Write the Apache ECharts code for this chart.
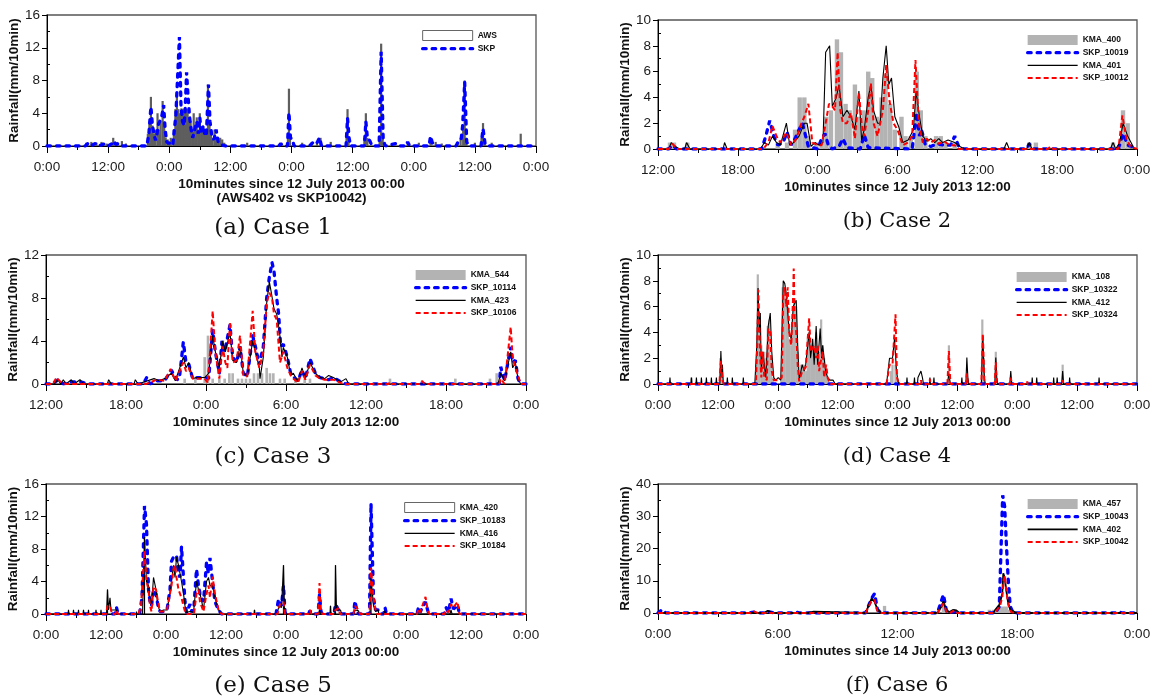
<!DOCTYPE html>
<html><head><meta charset="utf-8">
<script src="https://cdn.jsdelivr.net/npm/echarts@6/dist/echarts.min.js"></script>
<style>html,body{margin:0;padding:0;background:#fff}#c{width:1155px;height:698px}</style>
</head><body><div id="c"></div>
<script>
// ===== DATA: [hours since axis start, mm/10min] =====
// (a) Case 1
const A_AWS = [[7.7,0.4],[8.7,0.5],[9.7,0.4],[10.7,0.5],[11.7,0.3],[13.0,1.0],[13.7,0.5],[14.7,0.6],[15.5,0.3],
[19.8,1.5],[20.1,3.0],[20.4,6.0],[20.7,2.5],[21.0,1.5],[21.3,2.0],[21.7,4.0],[22.0,2.0],[22.3,3.0],[22.7,5.5],[23.0,3.0],[23.3,1.0],[23.7,0.8],[24.0,0.5],[24.3,1.0],
[24.9,2.0],[25.2,4.5],[25.5,6.5],[25.8,4.5],[26.1,4.0],[26.4,4.6],[26.7,4.5],[27.0,4.6],[27.3,4.5],[27.6,4.5],[27.9,3.5],[28.2,3.0],[28.5,2.0],[28.8,4.0],[29.1,2.0],[29.4,3.5],[29.7,2.0],[30.0,4.0],[30.3,2.0],[30.6,2.5],[30.9,1.5],[31.2,2.0],[31.6,7.5],[31.9,2.5],[32.2,1.5],[32.5,1.0],[32.9,2.0],[33.2,1.0],[33.6,1.0],[34.0,1.0],[34.4,0.8],[34.8,0.4],
[39.3,0.4],[45.9,0.3],[47.3,1.0],[47.5,7.0],[47.7,1.0],[50.1,0.4],[52.0,0.5],[53.0,0.5],[53.7,1.0],[55.7,0.5],
[58.8,1.0],[59.0,4.5],[59.2,1.0],[62.3,1.0],[62.6,4.0],[62.9,1.0],[65.3,1.0],[65.6,12.5],[65.9,1.5],
[70.8,0.4],[73.0,0.4],[75.3,0.5],[76.3,0.5],[77.5,0.3],[80.6,0.5],[81.2,1.0],[81.7,2.5],[82.0,8.0],[82.3,1.0],
[84.0,0.4],[85.3,1.0],[85.6,2.8],[85.9,0.5],[87.3,0.4],[93.0,1.5]];
const A_SKP = [[0,0],[7.5,0],[8.0,0.3],[8.5,0],[9.5,0.3],[10,0],[11.5,0.3],[12,0],[12.8,0.3],[13.1,0.6],[13.5,0.2],[14.2,0.3],[14.6,0],[19.6,0],[20.0,1.5],[20.4,4.8],[20.7,2.5],[21.0,1.5],[21.3,0.7],[21.6,1.5],[21.9,2.7],[22.2,2.5],[22.5,3.5],[22.9,5.0],[23.2,2.0],[23.5,0.5],[23.9,0.3],[24.3,0.5],[24.7,0.2],[25.0,2.0],[25.3,3.8],[25.6,4.0],[26.0,13.3],[26.3,5.0],[26.6,3.0],[26.9,2.5],[27.1,4.0],[27.4,9.0],[27.7,6.0],[28.0,3.5],[28.3,2.0],[28.6,1.0],[29.0,2.0],[29.4,3.0],[29.7,1.5],[30.0,3.5],[30.3,1.5],[30.7,2.5],[31.0,1.2],[31.3,1.5],[31.7,7.5],[32.0,3.0],[32.4,1.0],[32.8,0.8],[33.2,2.0],[33.6,0.5],[34.0,0.2],[35.0,0],[45.5,0],[45.9,0.3],[46.3,0],[47.2,0],[47.5,4.1],[47.8,1.0],[48.2,0.8],[48.5,0],[51.5,0],[52.0,0.3],[52.5,0.6],[53.0,0.4],[53.5,1.0],[53.9,0],[58.7,0],[59.0,3.4],[59.3,1.0],[59.6,0],[62.3,0],[62.6,3.0],[62.9,1.0],[63.4,0.6],[63.8,0],[65.2,0],[65.6,11.5],[66.0,0.8],[66.4,0],[68.5,0.3],[69,0],[70.5,0],[70.8,0.5],[71.2,0],[75.0,0],[75.3,1.2],[75.7,0.3],[76.1,0],[80.3,0],[80.7,0.5],[81.3,0.8],[81.6,2.5],[82.0,7.8],[82.4,0.5],[82.8,0],[85.2,0],[85.6,2.1],[86.0,0.3],[86.4,0],[96,0]];

// (b) Case 2
const B_KMA400 = [[0.9,0.5],[1.2,0.5],[2.2,0.5],[9.0,0.5],[9.7,0.5],[10.3,1.5],[10.65,4.0],[11.0,4.0],[11.3,1.0],[11.9,0.5],[12.3,0.5],[12.65,2.5],[13.0,3.0],[13.45,8.5],[13.75,7.5],[14.1,3.5],[14.4,3.0],[14.8,5.0],[15.1,2.5],[15.45,3.0],[15.8,6.0],[16.1,5.5],[16.45,2.5],[16.8,4.0],[17.1,5.8],[17.45,3.5],[17.8,1.5],[18.3,2.5],[18.6,1.0],[19.0,1.0],[19.45,6.0],[19.75,3.0],[20.1,1.0],[20.9,1.0],[21.25,1.0],[21.6,0.5],[22.3,0.5],[27.9,0.5],[28.4,0.5],[34.2,0.5],[34.95,3.0],[35.3,2.0]];
const B_SKP10019 = [[0,0],[0.8,0],[1.1,0.3],[1.4,0],[7.8,0],[8.1,1.0],[8.4,2.2],[8.7,1.0],[9.0,0.3],[9.4,0.5],[9.7,1.3],[10.0,0.3],[10.3,0.8],[10.6,1.5],[10.85,2.0],[11.1,1.0],[11.3,0.2],[12.0,0],[12.3,0.8],[12.55,1.2],[12.8,0.3],[13.1,0],[13.6,0.2],[13.9,0.8],[14.2,0.1],[15.2,0],[15.5,1.1],[15.8,0.1],[19.1,0],[19.45,2.8],[19.65,1.0],[19.8,1.5],[20.1,0.3],[20.5,0.2],[21.0,0.4],[21.5,0.3],[22.0,0.3],[22.3,1.0],[22.6,0.2],[23.0,0],[27.7,0],[27.9,0.4],[28.2,0],[34.6,0],[34.95,1.2],[35.3,0.3],[35.6,0.2],[36,0]];
const B_KMA401 = [[0,0],[0.8,0],[1.0,0.5],[1.3,0.2],[1.6,0],[2.0,0],[2.15,0.5],[2.4,0],[4.9,0],[5.0,0.5],[5.2,0],[7.7,0],[8.0,0.5],[8.3,0.3],[8.6,1.0],[8.9,0.5],[9.2,0.3],[9.65,2.0],[9.9,0.3],[10.2,0.5],[10.6,1.0],[11.0,2.0],[11.2,2.0],[11.5,0.2],[11.8,0.5],[12.1,0.3],[12.4,0.5],[12.6,7.5],[12.9,8.0],[13.1,3.3],[13.4,4.0],[13.6,5.0],[13.9,2.5],[14.2,3.0],[14.5,2.5],[14.8,1.5],[15.1,4.5],[15.3,0.7],[15.5,1.5],[15.8,4.0],[16.0,5.0],[16.2,3.0],[16.5,2.0],[16.7,2.0],[16.9,5.5],[17.15,8.0],[17.35,5.0],[17.55,5.5],[17.8,2.5],[18.1,1.7],[18.4,0.5],[18.8,0.7],[19.2,1.5],[19.4,4.5],[19.65,2.5],[19.9,1.0],[20.2,0.6],[20.5,0.8],[20.8,0.5],[21.1,0.8],[21.4,0.5],[21.8,0.7],[22.3,0.5],[22.7,0.2],[23.0,0],[26.0,0],[26.2,0.5],[26.4,0],[27.7,0],[27.9,0.5],[28.1,0],[34.0,0],[34.2,0.5],[34.4,0],[34.7,0.5],[34.95,2.0],[35.3,1.0],[35.6,0.4],[35.8,0],[36,0]];
const B_SKP10012 = [[0,0],[0.8,0],[1.1,0.4],[1.4,0],[7.9,0],[8.3,0.5],[8.6,1.8],[8.9,1.0],[9.2,0.5],[9.65,1.3],[10.0,0.3],[10.4,0.8],[10.7,1.8],[11.0,2.5],[11.3,3.5],[11.6,0.5],[12.0,0.3],[12.3,0.3],[12.6,2.0],[12.85,3.5],[13.1,3.3],[13.3,3.0],[13.5,7.5],[13.7,3.0],[13.9,2.0],[14.2,2.0],[14.5,2.8],[14.8,0.8],[15.1,4.4],[15.3,2.0],[15.5,1.0],[15.8,3.0],[16.0,5.1],[16.2,2.0],[16.5,1.0],[16.9,3.0],[17.15,6.5],[17.4,3.7],[17.7,2.0],[18.0,1.5],[18.4,0.3],[18.8,0.5],[19.1,1.0],[19.35,6.9],[19.6,2.0],[19.9,0.5],[20.2,0.8],[20.5,0.5],[20.8,0.7],[21.1,0.4],[21.5,0.6],[21.9,0.3],[22.3,0.3],[22.6,0],[29.3,0],[29.5,0.2],[29.7,0],[34.6,0],[34.9,2.6],[35.2,0.8],[35.5,0.2],[36,0]];

// (c) Case 3
const C_KMA544 = [[10.4,0.5],[11.2,0.5],[11.9,2.5],[12.15,4.5],[12.5,0.5],[13.0,0.5],[13.4,0.5],[13.75,1.0],[14.0,1.0],[14.4,0.5],[14.7,0.5],[15.0,0.5],[15.3,0.5],[15.6,1.0],[15.9,1.0],[16.2,1.0],[16.55,1.5],[16.8,1.0],[17.05,1.0],[17.55,0.5],[17.9,0.5],[18.7,0.5],[19.4,0.5],[19.8,0.5],[25.8,0.5],[30.7,0.5],[33.3,0.5],[33.8,1.0]];
const C_SKP10114 = [[0,0],[0.5,0],[0.9,0.4],[1.3,0],[1.9,0.2],[2.6,0.2],[3.2,0],[7.3,0],[7.55,0.6],[7.8,0],[8.3,0.3],[8.9,0.3],[9.4,1.3],[9.8,0.4],[10.0,0.5],[10.3,3.9],[10.5,2.0],[10.7,1.9],[11.0,0.5],[11.3,0.6],[11.9,0.6],[12.2,0.5],[12.5,5.0],[12.7,3.0],[13.0,1.0],[13.2,4.0],[13.4,3.0],[13.8,5.5],[14.0,2.5],[14.3,2.0],[14.55,3.5],[14.8,1.0],[15.1,0.7],[15.5,4.5],[15.7,3.5],[16.0,1.8],[16.3,3.5],[16.55,8.0],[16.75,9.9],[16.95,11.3],[17.1,10.5],[17.3,8.0],[17.45,6.5],[17.6,3.5],[17.8,3.7],[18.1,2.5],[18.35,1.0],[18.6,0.6],[18.9,0.3],[19.2,1.3],[19.45,0.5],[19.8,2.35],[20.2,1.0],[20.55,0.6],[20.9,0.5],[21.2,0.4],[21.55,0.6],[22.1,0.2],[22.5,0],[34.0,0],[34.1,1.6],[34.4,0.3],[34.85,3.45],[35.0,2.0],[35.2,2.2],[35.4,0.5],[35.6,0],[36,0]];
const C_KMA423 = [[0,0],[0.6,0],[0.9,0.4],[1.1,0],[1.3,0.4],[1.5,0],[1.9,0.4],[2.1,0],[2.55,0.4],[2.8,0],[4.6,0],[4.7,0.4],[4.9,0],[6.6,0],[6.7,0.4],[6.9,0],[8.1,0.5],[8.5,0.3],[8.9,0.5],[9.4,1.0],[9.7,0.3],[10.3,2.5],[10.5,1.5],[10.7,2.0],[11.0,0.5],[11.3,0.6],[11.9,0.6],[12.2,1.0],[12.5,4.5],[12.7,3.0],[13.0,1.5],[13.25,4.0],[13.45,3.0],[13.8,4.8],[14.0,2.2],[14.3,2.0],[14.55,3.5],[14.8,1.0],[15.1,0.7],[15.5,4.0],[15.7,3.0],[16.0,1.5],[16.05,0.5],[16.3,2.5],[16.55,7.5],[16.75,9.5],[16.9,8.5],[17.1,7.0],[17.3,6.5],[17.5,5.0],[17.7,2.5],[17.8,3.4],[18.1,2.5],[18.35,0.8],[18.55,1.0],[18.9,0.2],[19.2,1.5],[19.45,0.5],[19.8,2.0],[20.2,1.0],[20.55,0.6],[20.9,0.5],[21.2,0.8],[21.55,0.6],[22.1,0.2],[22.5,0.5],[22.7,0],[33.9,0],[34.1,1.0],[34.4,0.3],[34.85,3.0],[35.0,1.5],[35.2,2.0],[35.4,0.5],[35.6,0],[36,0]];
const C_SKP10106 = [[0,0],[0.5,0],[0.8,0.6],[1.1,0.2],[1.5,0],[7.5,0],[8.3,0.4],[8.9,0.3],[9.35,1.4],[9.7,0.3],[10.3,2.0],[10.5,1.2],[10.7,1.5],[11.0,0.5],[11.3,0.5],[11.9,0.5],[12.15,0.1],[12.3,0.2],[12.5,6.8],[12.7,3.0],[13.0,0.5],[13.25,3.5],[13.45,2.0],[13.6,1.5],[13.8,5.8],[14.0,2.0],[14.3,2.2],[14.55,4.5],[14.8,0.8],[15.1,0.7],[15.5,6.8],[15.7,3.0],[16.0,1.5],[16.3,3.0],[16.55,7.5],[16.75,8.5],[16.95,8.0],[17.1,6.5],[17.3,6.0],[17.55,2.0],[17.8,3.0],[18.1,1.5],[18.35,0.8],[18.55,0.5],[18.9,0.1],[19.2,1.2],[19.45,0.4],[19.8,1.8],[20.2,0.8],[20.55,0.5],[20.9,0.4],[21.55,0.4],[22.1,0.1],[22.4,0],[25.7,0],[25.8,0.2],[25.9,0],[28.1,0],[28.2,0.3],[28.4,0],[34.0,0],[34.1,0.5],[34.4,0],[34.85,5.3],[35.0,2.5],[35.2,1.5],[35.35,1.0],[35.6,0],[36,0]];

// (d) Case 4
const D_KMA108 = [[6.7,0.5],[12.5,2.0],[12.8,1.0],[19.7,1.5],[20.0,8.5],[20.3,4.0],[20.7,3.0],[21.0,1.0],[21.3,2.5],[21.7,2.0],[22.0,4.5],[22.3,5.0],[22.7,2.0],[23.0,0.5],[24.7,0.5],[25.0,7.5],[25.3,7.5],[25.7,7.0],[26.0,6.0],[26.3,3.5],[26.7,3.0],[27.0,4.5],[27.3,6.5],[27.7,6.0],[28.0,2.5],[28.7,1.5],[29.0,1.5],[29.3,1.5],[29.7,1.0],[30.0,3.5],[30.3,4.0],[30.7,2.0],[31.0,3.0],[31.3,2.5],[31.7,4.0],[32.0,2.5],[32.3,2.5],[32.7,5.0],[33.0,3.0],[33.3,2.0],[33.7,1.0],[34.0,0.5],[46.7,1.0],[47.0,1.5],[47.6,1.5],[58.3,3.0],[65.0,5.0],[65.3,2.0],[67.7,2.5],[70.7,0.5],[81.1,1.5]];
const D_SKP10322 = [[0,0],[96,0]];
const D_KMA412 = [[0,0],[2.3,0],[2.4,0.5],[2.5,0],[6.6,0],[6.7,0.5],[6.8,0],[7.6,0],[7.7,0.5],[7.8,0],[8.6,0],[8.7,0.5],[8.8,0],[9.6,0],[9.7,0.5],[9.8,0],[10.6,0],[10.7,0.5],[10.8,0],[11.6,0],[11.7,0.5],[11.8,0],[12.4,0],[12.6,2.55],[12.8,0.5],[12.9,1.5],[13.1,0],[13.8,0],[13.9,0.5],[14.0,0],[14.8,0],[14.9,0.5],[15.0,0],[17.0,0],[17.1,0.5],[17.2,0],[19.4,0],[19.8,3.0],[20.05,7.45],[20.3,4.0],[20.5,5.5],[20.7,1.0],[21.0,2.5],[21.3,1.5],[21.6,0.5],[22.1,4.5],[22.5,5.5],[22.8,2.5],[23.2,0.5],[23.6,0.3],[24.1,0.5],[24.6,0.3],[25.1,8.0],[25.4,7.8],[25.7,7.0],[26.0,5.5],[26.3,4.0],[26.7,3.5],[27.1,6.0],[27.4,6.0],[27.7,6.5],[28.0,3.0],[28.3,0.3],[28.9,1.5],[29.3,1.0],[29.6,1.5],[30.3,4.0],[30.6,2.0],[31.0,3.5],[31.3,1.5],[31.7,4.5],[32.0,1.5],[32.5,4.3],[32.8,2.0],[33.0,3.0],[33.3,3.0],[33.6,1.0],[34.0,0.5],[34.5,0.3],[35.1,0.3],[35.5,0],[45.8,0],[46.1,1.0],[46.4,2.0],[47.0,2.0],[47.4,3.5],[47.8,1.0],[48.0,0.5],[48.3,0],[49.8,0],[49.9,0.5],[50.0,0],[51.3,0],[51.4,0.5],[51.5,0],[52.0,0],[52.1,0.5],[52.7,1.0],[53.0,0.5],[53.2,0],[54.4,0],[54.5,0.5],[54.6,0],[55.2,0],[55.3,0.5],[55.4,0],[58.0,0],[58.3,0.8],[58.6,0],[60.8,0],[60.9,0.5],[61.0,0],[61.7,0],[61.9,2.05],[62.1,0.5],[62.3,0],[64.8,0],[65.1,3.7],[65.4,0.5],[65.6,0],[67.5,0],[67.7,2.05],[67.9,0.5],[68.1,0],[70.5,0],[70.7,1.0],[70.9,0],[74.9,0],[75.0,0.5],[75.1,0],[75.8,0],[75.9,0.5],[76.0,0],[79.2,0],[79.3,0.5],[79.4,0],[79.9,0],[80.0,0.5],[80.1,0],[80.9,0],[81.1,1.0],[81.3,0],[82.4,0],[82.5,0.5],[82.6,0],[88.3,0],[88.4,0.5],[88.5,0],[96,0]];
const D_SKP10324 = [[0,0],[12.3,0],[12.6,1.8],[12.9,0.3],[13.2,0],[19.6,0],[19.9,3.0],[20.1,7.3],[20.3,4.5],[20.5,2.0],[20.7,0.5],[21.0,2.5],[21.3,0.5],[21.8,0.3],[22.1,4.3],[22.5,4.0],[22.8,1.0],[23.2,0.3],[24.0,0.3],[24.8,0.5],[25.1,7.0],[25.4,7.5],[25.7,6.0],[26.0,7.5],[26.3,4.0],[26.7,3.0],[27.1,7.0],[27.2,8.95],[27.4,5.0],[27.7,4.0],[28.0,1.5],[28.3,0.2],[28.9,1.0],[29.6,1.3],[30.3,5.1],[30.6,2.5],[31.0,2.5],[31.3,3.0],[31.7,2.0],[32.0,3.0],[32.3,1.0],[32.5,1.5],[33.0,2.5],[33.3,0.5],[33.7,1.5],[34.0,0.5],[34.5,0],[45.8,0],[46.4,1.5],[47.0,1.5],[47.6,5.4],[47.9,0.5],[48.2,0],[52.6,0],[52.7,0.3],[52.8,0],[54.4,0],[54.5,0.4],[54.6,0],[58.0,0],[58.3,2.55],[58.6,0],[61.7,0],[61.9,0.8],[62.1,0],[64.8,0],[65.1,3.9],[65.4,0.3],[65.6,0],[67.5,0],[67.7,1.7],[67.9,0],[70.5,0],[70.7,0.5],[70.9,0],[73.9,0],[74.0,0.2],[74.1,0],[80.9,0],[81.1,0.3],[81.3,0],[96,0]];

// (e) Case 5
const E_KMA420 = [[12.3,3.0],[19.7,9.5],[41.7,0.5],[47.5,6.0],[56.9,1.0],[57.9,6.0],[65.0,4.5]];
const E_SKP10183 = [[0,0],[13.8,0],[14.1,0.8],[14.4,0],[18.7,0],[19.2,2.0],[19.7,13.3],[20.1,11.0],[20.5,3.0],[20.8,1.5],[21.1,1.0],[21.5,3.0],[22.0,2.5],[22.4,1.0],[22.8,0.3],[23.5,0.3],[24.2,0.5],[24.8,3.0],[25.1,6.5],[25.5,7.0],[25.8,6.8],[26.1,7.2],[26.5,5.0],[26.8,4.5],[27.1,8.3],[27.5,4.5],[27.8,1.5],[28.1,0.2],[28.8,1.2],[29.2,0.2],[29.6,1.0],[30.1,5.5],[30.5,3.5],[30.8,2.5],[31.5,1.5],[32.1,6.3],[32.5,5.0],[32.8,6.9],[33.3,4.0],[33.8,1.5],[34.5,0.5],[35.1,0],[46.0,0],[46.5,1.8],[47.1,1.0],[47.5,3.5],[47.8,0.3],[48.0,0],[52.5,0],[52.8,0.4],[53.1,0],[54.4,0],[54.7,2.4],[55.0,0.3],[55.3,0],[57.6,0],[57.9,1.2],[58.5,0.5],[58.8,0],[61.5,0],[61.8,1.6],[62.2,0.3],[62.5,0],[64.7,0],[65.0,13.6],[65.5,2.0],[65.9,0.5],[66.5,0.5],[66.9,0],[67.5,0],[67.8,0.8],[68.1,0],[74.2,0],[74.5,0.8],[74.8,0.2],[75.9,1.5],[76.4,0.3],[76.7,0],[79.7,0],[80.0,0.8],[80.5,0.2],[81.0,1.9],[81.5,0.6],[82.3,1.1],[82.7,0],[96,0]];
const E_KMA416 = [[0,0],[4.4,0],[4.5,0.5],[4.6,0],[5.4,0],[5.5,0.5],[5.6,0],[6.4,0],[6.5,0.5],[6.6,0],[7.4,0],[7.5,0.5],[7.6,0],[8.4,0],[8.5,0.5],[8.6,0],[9.9,0],[10.0,0.5],[10.1,0],[10.9,0],[11.0,0.5],[11.1,0],[12.1,0],[12.3,3.0],[12.5,0.5],[12.8,2.0],[13.0,0.5],[13.4,0.5],[14.1,0.5],[14.4,0],[18.0,0],[18.1,0.3],[18.2,0],[19.3,0],[19.7,9.45],[20.1,4.0],[20.5,3.5],[20.8,2.0],[21.1,1.0],[21.5,4.5],[22.0,3.0],[22.4,1.0],[22.8,0.3],[23.5,0.5],[24.2,0.5],[24.8,2.5],[25.1,4.0],[25.5,6.0],[25.8,4.5],[26.1,7.0],[26.5,6.0],[26.8,5.0],[27.1,4.0],[27.5,2.5],[27.8,1.0],[28.1,0.2],[28.8,0.3],[29.5,0.2],[30.1,4.0],[30.5,3.0],[30.8,2.5],[31.5,0.5],[32.1,4.0],[32.5,4.5],[32.8,3.5],[33.3,3.5],[33.8,2.0],[34.5,0.5],[35.1,0],[41.6,0],[41.7,0.5],[41.8,0],[46.2,0],[46.6,1.0],[47.1,0.8],[47.5,6.0],[47.7,0.3],[48.0,0],[54.5,0],[54.7,0.5],[54.9,0],[56.8,0],[56.9,1.0],[57.0,0],[57.8,0],[57.9,6.0],[58.1,0.5],[58.5,0.5],[58.9,0.5],[59.1,0],[61.6,0],[61.8,0.5],[62.5,0.4],[62.7,0],[64.8,0],[65.0,4.5],[65.5,1.0],[65.9,0.3],[66.4,0.5],[66.6,0],[67.6,0],[67.8,0.4],[68.0,0],[80.8,0],[81.0,0.5],[81.2,0],[96,0]];
const E_SKP10184 = [[0,0],[12.0,0],[12.3,1.0],[12.8,1.0],[13.2,0],[13.9,0],[14.1,0.5],[14.4,0],[18.5,0],[19.0,1.0],[19.3,1.0],[19.7,7.8],[20.1,4.0],[20.5,3.0],[20.8,1.0],[21.1,0.3],[21.5,3.4],[22.0,3.0],[22.4,1.5],[22.8,0.3],[23.5,0.3],[24.2,0.5],[24.8,2.5],[25.1,3.5],[25.5,5.5],[25.8,6.0],[26.1,4.5],[26.5,3.0],[27.1,2.0],[27.5,1.0],[27.8,0.3],[28.1,0],[29.6,0],[30.1,2.5],[30.5,3.0],[30.8,1.5],[31.5,0.3],[32.1,2.5],[32.5,3.5],[32.8,2.0],[33.3,4.6],[33.8,2.5],[34.5,0.5],[35.1,0],[46.3,0],[46.8,1.2],[47.2,1.0],[47.5,1.5],[47.8,0],[52.5,0],[52.8,0.5],[53.1,0],[54.4,0],[54.7,3.8],[55.0,0.3],[55.3,0],[57.6,0],[57.9,0.5],[58.5,0.7],[58.8,0],[61.5,0],[61.8,1.0],[62.5,0.5],[62.8,0],[64.7,0],[65.0,5.7],[65.5,2.0],[65.9,0.5],[66.2,0],[74.2,0],[74.5,0.6],[74.8,0.2],[75.9,2.1],[76.4,0.3],[76.7,0],[79.7,0],[80.0,0.5],[80.5,0.2],[81.0,1.2],[81.5,0.8],[82.3,1.5],[82.7,0],[96,0]];

// (f) Case 6
const F_KMA457 = [[11.35,2.2],[14.3,3.0],[16.6,1.0],[16.8,1.0],[17.0,1.0],[17.15,2.0],[17.3,2.0],[17.45,2.0],[17.6,1.0]];
const F_SKP10043 = [[0,0],[0.1,0.5],[0.2,1.0],[0.4,0],[4.5,0],[4.8,0.3],[5.1,0],[5.3,0],[5.5,0.5],[5.8,0],[6.7,0],[6.9,0.3],[7.1,0],[10.4,0],[10.7,4.5],[10.85,6.0],[11.0,1.0],[11.2,0],[14.0,0],[14.3,5.7],[14.45,0.8],[14.6,0],[14.7,0],[14.85,0.5],[15.0,0],[16.9,0],[17.1,2.0],[17.27,36.5],[17.37,33.0],[17.45,22.0],[17.55,10.0],[17.65,2.0],[17.8,0],[22.9,0],[23.1,0.3],[23.3,0],[24,0]];
const F_KMA402 = [[0,0],[1.8,0],[1.9,0.4],[2.0,0],[3.7,0],[3.8,0.3],[3.9,0],[5.3,0],[5.5,0.7],[5.7,0],[7.5,0],[7.6,0.4],[7.8,0.4],[7.9,0],[10.4,0],[10.7,4.5],[10.85,3.5],[11.0,1.0],[11.2,0],[13.7,0],[13.8,0.3],[14.0,0],[14.2,2.0],[14.3,3.6],[14.45,0.8],[14.6,0.3],[14.8,1.0],[14.95,0.8],[15.1,0],[16.8,0],[16.9,1.0],[17.1,2.5],[17.25,6.0],[17.3,12.3],[17.37,11.0],[17.45,7.0],[17.55,3.0],[17.65,1.0],[17.8,0.5],[18.0,0],[18.05,0.4],[18.2,0],[20.0,0],[20.1,0.4],[20.2,0],[22.2,0],[22.3,0.3],[22.4,0],[23.1,0],[23.2,0.3],[23.3,0],[24,0]];
const F_SKP10042 = [[0,0],[4.6,0],[4.8,0.5],[5.0,0],[5.4,0],[5.5,0.4],[5.7,0],[10.4,0],[10.7,3.8],[10.85,4.0],[11.0,0.5],[11.2,0],[14.0,0],[14.3,2.9],[14.45,0.5],[14.6,0],[14.7,0],[14.85,0.8],[15.0,0],[16.8,0],[17.0,1.0],[17.15,2.5],[17.25,5.0],[17.32,10.2],[17.38,11.5],[17.45,7.0],[17.55,2.5],[17.7,0.3],[17.85,0],[20.0,0],[20.1,0.3],[20.2,0],[22.2,0],[22.3,0.3],[22.4,0],[24,0]];

// ===== LAYOUT / STYLE =====
const SANS = '"Liberation Sans", Arial, sans-serif';
const PANELS = [
 {grid:{left:47,top:15,width:489,height:131}, span:96, start:0, xInt:12, yMax:16, yInt:4,
  xName:'10minutes since 12 July 2013 00:00\n(AWS402 vs SKP10042)', leg:{left:421,top:30}, cap:['(a) Case 1',273,228,23], barW:2.2,
  items:[['AWS','dark',A_AWS],['SKP','blue',A_SKP]]},
 {grid:{left:658,top:20,width:479,height:129}, span:36, start:12, xInt:6, yMax:10, yInt:2,
  xName:'10minutes since 12 July 2013 12:00', leg:{left:1026,top:35}, cap:['(b) Case 2',897,222,21], barW:4.4,
  items:[['KMA_400','gray',B_KMA400],['SKP_10019','blue',B_SKP10019],['KMA_401','black',B_KMA401],['SKP_10012','red',B_SKP10012]]},
 {grid:{left:46,top:255,width:480,height:129}, span:36, start:12, xInt:6, yMax:12, yInt:4,
  xName:'10minutes since 12 July 2013 12:00', leg:{left:414,top:270}, cap:['(c) Case 3',273,457,23], barW:2.6,
  items:[['KMA_544','gray',C_KMA544],['SKP_10114','blue',C_SKP10114],['KMA_423','black',C_KMA423],['SKP_10106','red',C_SKP10106]]},
 {grid:{left:658,top:255,width:479,height:129}, span:96, start:0, xInt:12, yMax:10, yInt:2,
  xName:'10minutes since 12 July 2013 00:00', leg:{left:1015,top:272}, cap:['(d) Case 4',897,457,21], barW:2.2,
  items:[['KMA_108','gray',D_KMA108],['SKP_10322','blue',D_SKP10322],['KMA_412','black',D_KMA412],['SKP_10324','red',D_SKP10324]]},
 {grid:{left:46,top:484,width:480,height:130}, span:96, start:0, xInt:12, yMax:16, yInt:4,
  xName:'10minutes since 12 July 2013 00:00', leg:{left:403,top:502}, cap:['(e) Case 5',273,686,23], barW:1.2,
  items:[['KMA_420','outline',E_KMA420],['SKP_10183','blue',E_SKP10183],['KMA_416','black',E_KMA416],['SKP_10184','red',E_SKP10184]]},
 {grid:{left:658,top:484,width:479,height:129}, span:24, start:0, xInt:6, yMax:40, yInt:10,
  xName:'10minutes since 14 July 2013 00:00', leg:{left:1026,top:499}, cap:['(f) Case 6',897,686,21], barW:3.3,
  items:[['KMA_457','gray',F_KMA457],['SKP_10043','blue',F_SKP10043],['KMA_402','black',F_KMA402],['SKP_10042','red',F_SKP10042]]}
];

const grids=[], xAxes=[], yAxes=[], legends=[], series=[], graphics=[];
const HIDE = {color:'rgba(0,0,0,0)', borderWidth:0, opacity:0};
PANELS.forEach((p, i) => {
  grids.push(Object.assign({show:true, borderColor:'#555', borderWidth:1.3, backgroundColor:'transparent'}, p.grid));
  xAxes.push({type:'value', gridIndex:i, min:0, max:p.span, interval:p.xInt,
    axisLine:{show:true, onZero:false, lineStyle:{color:'#000', width:1}},
    axisTick:{show:true, length:7, lineStyle:{color:'#000'}},
    minorTick:{show:true, splitNumber:2, length:4, lineStyle:{color:'#000'}},
    splitLine:{show:false},
    axisLabel:{margin:14, fontSize:13.5, color:'#1a1a1a', fontFamily:SANS,
      formatter:v => ((p.start + v) % 24) + ':00'},
    name:p.xName, nameLocation:'middle', nameGap:31,
    nameTextStyle:{fontSize:13.5, fontWeight:'bold', color:'#111', fontFamily:SANS, lineHeight:14}});
  yAxes.push({type:'value', gridIndex:i, min:0, max:p.yMax, interval:p.yInt,
    axisLine:{show:true, lineStyle:{color:'#000', width:1}},
    axisTick:{show:true, length:5, lineStyle:{color:'#000'}},
    minorTick:{show:true, splitNumber:2, length:-3, lineStyle:{color:'#000'}},
    splitLine:{show:false},
    axisLabel:{margin:7, fontSize:13.5, color:'#1a1a1a', fontFamily:SANS},
    name:'Rainfall(mm/10min)', nameLocation:'middle', nameRotate:90, nameGap:25,
    nameTextStyle:{fontSize:13.5, fontWeight:'bold', color:'#111', fontFamily:SANS}});
  const legData = [];
  p.items.forEach(([name, kind, data]) => {
    const base = {name, xAxisIndex:i, yAxisIndex:i, data, animation:false, silent:true};
    if (kind === 'gray' || kind === 'dark' || kind === 'outline') {
      const col = kind === 'gray' ? '#b3b3b3' : (kind === 'dark' ? '#5e5e5e' : '#000');
      series.push(Object.assign(base, {type:'bar', barWidth:p.barW, itemStyle:{color:col}}));
      if (kind === 'gray') legData.push({name, icon:'rect'});
      else legData.push({name, icon:'rect', itemStyle:{color:'#fff', borderColor:'#666', borderWidth:1}});
    } else {
      let ls;
      if (kind === 'blue') ls = {color:'#0000ff', width:3.3, type:[3.5,6], cap:'round'};
      else if (kind === 'red') ls = {color:'#ff0000', width:2, type:[5,3]};
      else ls = {color:'#000', width: i === 5 ? 1.8 : 1.1};
      series.push(Object.assign(base, {type:'line', symbol:'none', showSymbol:false, lineStyle:ls, itemStyle:{color:ls.color}, z: kind==='red'?5:(kind==='black'?4:3)}));
      legData.push({name, itemStyle:HIDE, lineStyle:Object.assign({}, ls)});
    }
  });
  legends.push({orient:'vertical', left:p.leg.left, top:p.leg.top, itemWidth:50, itemHeight:10, itemGap:2.7,
    selectedMode:false, data:legData, padding:0,
    textStyle:{fontSize:8.5, fontWeight:'bold', color:'#111', fontFamily:SANS, lineHeight:10}});
  graphics.push({type:'text', x:p.cap[1], y:p.cap[2], silent:true,
    style:{text:p.cap[0], fontSize:p.cap[3], fontFamily:'"DejaVu Serif", serif', fill:'#111', align:'center', verticalAlign:'middle'}});
});

const chart = echarts.init(document.getElementById('c'), null, {renderer:'canvas'});
chart.setOption({animation:false, grid:grids, xAxis:xAxes, yAxis:yAxes, legend:legends, series, graphic:graphics});
</script></body></html>
